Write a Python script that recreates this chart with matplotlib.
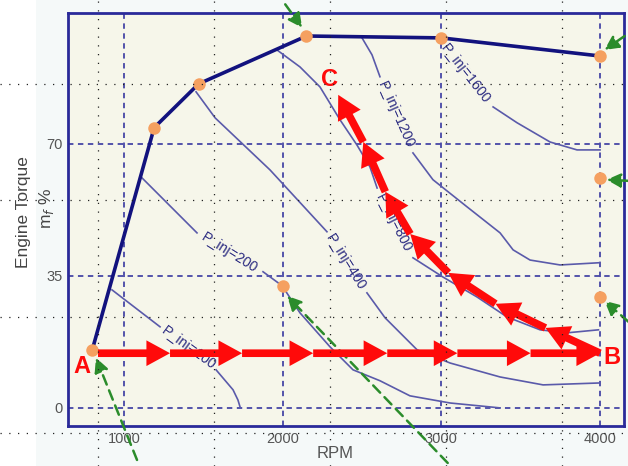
import numpy as np
import matplotlib
matplotlib.use('Agg')
import matplotlib.pyplot as plt
from matplotlib.lines import Line2D
from matplotlib.patches import Rectangle

nan = np.nan

# full load curve (orange dots sit on it)
full_rpm = [800, 1190, 1470, 2150, 3000, 4000]
full_torque = [15.4, 74.3, 85.9, 98.6, 98.1, 93.3]

# other measured points
extra_rpm = [2000, 4000, 4000]
extra_torque = [32.4, 61.0, 29.4]

# P_inj iso lines, nan marks the gap where the label is
p100_rpm = [924, 1227, nan, 1580, 1687, 1718, 1731]
p100_tq = [31.3, 21.5, nan, 10.1, 4.8, 2.1, 0.3]

p200_rpm = [1113, 1460, nan, 1876, 1996, 2109, 2298, 2443, 2613, 2802, 3055, 3370]
p200_tq = [61.0, 46.4, nan, 36.1, 32.4, 25.2, 16.2, 10.1, 7.2, 3.2, 1.3, 0.0]

p400_rpm = [1454, 1574, 1920, 2279, nan, 2531, 2645, 2847, 3055, 3370, 3641, 3990]
p400_tq = [83.8, 76.9, 63.1, 46.7, nan, 30.5, 23.9, 15.4, 11.9, 8.2, 6.1, 6.6]

p800_rpm = [1964, 2109, 2235, 2361, 2468, 2550, 2595, nan, 2821, 3010, 3225, 3414, 3622, 3792, 3990]
p800_tq = [94.9, 90.4, 85.1, 76.4, 69.7, 63.9, 58.3, nan, 39.8, 34.7, 29.4, 24.1, 20.7, 19.9, 20.7]

p1200_rpm = [2500, 2563, 2613, nan, 2821, 2947, 3162, 3370, 3452, 3559, 3748, 4000]
p1200_tq = [98.1, 93.6, 87.8, nan, 67.6, 60.5, 53.3, 46.4, 41.9, 39.2, 37.9, 38.5]

p1600_rpm = [3326, 3477, 3685, 3855, 4000]
p1600_tq = [79.8, 75.6, 70.5, 68.4, 68.4]

contour_labels = ['P_inj=100', 'P_inj=200', 'P_inj=400', 'P_inj=800', 'P_inj=1200', 'P_inj=1600']

# red operating path A -> B -> C
ab_rpm = [836, 1290, 1744, 2192, 2659, 3101, 3562, 4000]
ab_tq = [14.5, 14.5, 14.5, 14.5, 14.5, 14.5, 14.5, 14.5]
bc_rpm = [4000, 3656, 3341, 3044, 2804, 2647, 2508, 2350]
bc_tq = [14.5, 21.2, 27.6, 35.8, 46.1, 57.3, 70.5, 83.0]

# green dashed pointers (start -> end)
green_from_rpm = [1082, 3040, 4180, 4180, 4155, 2016]
green_from_tq = [-13.8, -14.6, 22.8, 60.2, 98.6, 107.0]
green_to_rpm = [823, 2028, 4028, 4041, 4028, 2123]
green_to_tq = [13.3, 29.7, 28.4, 60.5, 94.9, 100.8]

x_ticks = [1000, 2000, 3000, 4000]
y_ticks = [0, 35, 70]

navy = '#12127e'
grid_blue = '#4646a6'
iso_blue = '#5a5aaa'
label_blue = '#2a2a80'
orange = '#f5a060'
green = '#2b8c2b'
red = '#ff0a0a'

W, H = 628, 466
fig = plt.figure(figsize=(W / 100, H / 100), dpi=100)
fig.patch.set_facecolor('white')
fig.add_artist(Rectangle((36 / W, 0), 1, 1, transform=fig.transFigure,
                         facecolor='#f5f9f9', edgecolor='none', zorder=-5))

ax = fig.add_axes([68 / W, 1 - 426 / H, (624 - 68) / W, (426 - 13) / H])
ax.set_facecolor('#f6f6ea')
ax.set_xlim(647, 4151)
ax.set_ylim(-4.8, 104.7)

ax.set_xticks(x_ticks)
ax.set_yticks(y_ticks)
ax.tick_params(length=0, labelsize=10.5, labelcolor='#555555', pad=4)
for lab in ax.get_xticklabels() + ax.get_yticklabels():
    lab.set_family(['Liberation Sans Narrow', 'Liberation Sans', 'DejaVu Sans'])
ax.grid(True, color=grid_blue, linestyle=(0, (3, 2.5)), linewidth=1.3)
ax.set_axisbelow(True)
for s in ax.spines.values():
    s.set_color('#2a2a9a')
    s.set_linewidth(2)

# iso lines + labels
iso_rpm = [p100_rpm, p200_rpm, p400_rpm, p800_rpm, p1200_rpm, p1600_rpm]
iso_tq = [p100_tq, p200_tq, p400_tq, p800_tq, p1200_tq, p1600_tq]
for r, t in zip(iso_rpm, iso_tq):
    ax.plot(r, t, color=iso_blue, linewidth=1.2, zorder=2)

label_pos = [(1410, 15.8, -36), (1665, 41.0, -32), (2395, 38.6, -58),
             (2700, 49.0, -63), (2714, 77.7, -66), (3150, 88.5, -52)]
for txt, (lx, ly, rot) in zip(contour_labels, label_pos):
    ax.text(lx, ly, txt, rotation=rot, rotation_mode='anchor', ha='center', va='center',
            fontsize=10.2, color=label_blue, zorder=2,
            family=['Liberation Sans', 'DejaVu Sans'])

# full load curve
ax.plot(full_rpm, full_torque, color=navy, linewidth=2.6, zorder=3)
ax.plot(full_rpm, full_torque, 'o', color=orange, markersize=9, markeredgewidth=0, zorder=4)
ax.plot(extra_rpm, extra_torque, 'o', color=orange, markersize=9, markeredgewidth=0, zorder=4)

# green pointers
for x0, y0, x1, y1 in zip(green_from_rpm, green_from_tq, green_to_rpm, green_to_tq):
    ax.annotate('', xy=(x1, y1), xytext=(x0, y0), annotation_clip=False,
                arrowprops=dict(arrowstyle='-|>,head_length=0.6,head_width=0.3', color=green,
                                lw=1.8, linestyle=(0, (4, 2.5)), shrinkA=0, shrinkB=0,
                                mutation_scale=14), zorder=5)

# red path arrows
red_style = 'simple,head_length=1.7,head_width=1.85,tail_width=0.55'
for i in range(len(ab_rpm) - 1):
    ax.annotate('', xy=(ab_rpm[i + 1], ab_tq[i + 1]), xytext=(ab_rpm[i], ab_tq[i]),
                arrowprops=dict(arrowstyle=red_style, mutation_scale=10, fc=red, ec='none',
                                shrinkA=0, shrinkB=0), zorder=6)
for i in range(len(bc_rpm) - 1):
    ax.annotate('', xy=(bc_rpm[i + 1], bc_tq[i + 1]), xytext=(bc_rpm[i], bc_tq[i]),
                arrowprops=dict(arrowstyle=red_style, mutation_scale=10, fc=red, ec='none',
                                shrinkA=0, shrinkB=0), zorder=6)

for name, lx, ly in [('A', 735, 10.9), ('B', 4076, 13.3), ('C', 2298, 87.0)]:
    ax.text(lx, ly, name, color=red, fontsize=17, fontweight='bold',
            family=['Liberation Sans', 'DejaVu Sans'], ha='center', va='center',
            clip_on=False, zorder=7)

# axis labels
fig.text(335 / W, 1 - 453 / H, 'RPM', ha='center', va='center', fontsize=12,
         color='#555555', family=['Liberation Sans', 'DejaVu Sans'])
fig.text(24 / W, 1 - 212 / H, 'Engine Torque', rotation=90, ha='center', va='center',
         fontsize=12.5, color='#444444', family=['Liberation Sans', 'DejaVu Sans'])
fig.text(47 / W, 1 - 208 / H, 'm$_f$ %', rotation=90, ha='center', va='center',
         fontsize=12.5, color='#444444', family=['Liberation Sans', 'DejaVu Sans'])

# slide background dot grid
for gx in [97.7, 213.8, 330, 446, 562]:
    fig.add_artist(Line2D([gx / W, gx / W], [0, 1], transform=fig.transFigure,
                          color='#222222', linewidth=0.9, linestyle=(0, (1, 6)), zorder=3))
for gy in [84, 200.3, 316.6, 433]:
    fig.add_artist(Line2D([0, 1], [1 - gy / H, 1 - gy / H], transform=fig.transFigure,
                          color='#222222', linewidth=0.9, linestyle=(0, (1, 6)), zorder=3))

fig.savefig('out.png', dpi=100)
